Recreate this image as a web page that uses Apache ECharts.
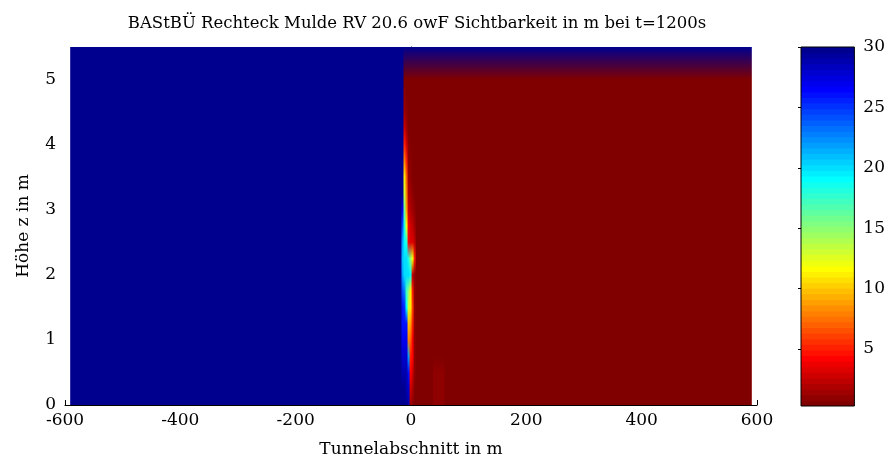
<!DOCTYPE html>
<html><head><meta charset="utf-8">
<script src="https://cdn.jsdelivr.net/npm/echarts@6/dist/echarts.min.js"></script>
<style>html,body{margin:0;padding:0;background:#fff}#c{width:888px;height:463px}</style>
</head><body><div id="c"></div>
<script>
// ---- data ----
const titleText = 'BAStBÜ Rechteck Mulde RV 20.6 owF Sichtbarkeit in m bei t=1200s';
const xTicks = [-600, -400, -200, 0, 200, 400, 600];
const yTicks = [0, 1, 2, 3, 4, 5];
const cbTicks = [5, 10, 15, 20, 25, 30];
const cMin = 0.28, cMax = 30;
// height nodes (m)
const zNodes = [0,0.25,0.5,0.75,1,1.25,1.5,1.75,2,2.25,2.5,2.75,3,3.25,3.5,3.75,4,4.25,4.5,4.75,5,5.5];
// column edges along the tunnel (m)
const xEdges = [-591,-16.5,-13,-9.5,-6,-2.5,1,4.5,8,38,58,591];
// visibility (m) per column, one value per height node
const colLeft  = [30,30,30,30,30,30,30,30,30,30,30,30,30,30,30,30,30,30,30,30,30,30];
const colA     = [30,30,29,28,27,26,26,24,22,21,22,24,27,30,30,30,30,30,30,30,30,30];
const colB     = [30,30,29,28,27,26,25,23,20,20,19,18,16,13,11,8,5,3,1.5,0.8,0.4,30];
const colC     = [30,29,29,28,27,26,19,17,20,20,18,12,9,8,7,5,3,1.5,1,0.6,0.4,30];
const colD     = [29,28,26,22,8,10,13,15,20,18,4,4,3,2,1.5,1,0.8,0.5,0.4,0.3,0.3,30];
const colE     = [1.5,3,4,5,7,9,11,11,19,15,3.5,3,2,1.5,1,0.8,0.6,0.5,0.4,0.3,0.3,30];
const colF     = [0.8,2,3,4,4,5,6,5,2.5,12,3.5,2.5,1.5,1,0.6,0.4,0.4,0.3,0.3,0.3,0.3,30];
const colG     = [0.4,0.6,0.8,1,1,1,1,1,1,5,2.5,1.5,0.8,0.4,0.3,0.3,0.3,0.3,0.3,0.3,0.3,30];
const colH     = [0.3,0.4,0.4,0.4,0.4,0.4,0.4,0.4,0.5,1.5,1,0.8,0.3,0.3,0.3,0.3,0.3,0.3,0.3,0.3,0.3,30];
const colR1    = [0.3,0.3,0.3,0.3,0.3,0.3,0.3,0.3,0.3,0.3,0.3,0.3,0.3,0.3,0.3,0.3,0.3,0.3,0.3,0.3,0.3,30];
const colStrip = [1.0,1.0,0.8,0.5,0.3,0.3,0.3,0.3,0.3,0.3,0.3,0.3,0.3,0.3,0.3,0.3,0.3,0.3,0.3,0.3,0.3,30];
const colR2    = [0.3,0.3,0.3,0.3,0.3,0.3,0.3,0.3,0.3,0.3,0.3,0.3,0.3,0.3,0.3,0.3,0.3,0.3,0.3,0.3,0.3,30];
const columnValues = [colLeft,colA,colB,colC,colD,colE,colF,colG,colR1,colStrip,colR2];

// ---- colormap: MATLAB jet(64), reversed (high = blue) ----
function jet64(){
  const n=16, u=[];
  for(let k=1;k<=n;k++)u.push(k/n);
  for(let k=0;k<n-1;k++)u.push(1);
  for(let k=n;k>=1;k--)u.push(k/n);
  const R=new Array(64).fill(0),G=new Array(64).fill(0),B=new Array(64).fill(0);
  for(let k=0;k<u.length;k++){
    const g=8+k, r=24+k, b=k-8;
    if(g<64)G[g]=u[k];
    if(r<64)R[r]=u[k];
    if(b>=0)B[b]=u[k];
  }
  const out=[];
  for(let i=0;i<64;i++)out.push('rgb('+Math.round(R[i]*255)+','+Math.round(G[i]*255)+','+Math.round(B[i]*255)+')');
  return out;
}
const jet = jet64();
const cmap = jet.slice().reverse(); // index 0 = dark red (low), 63 = dark blue (high)
function colorOf(v){
  let i=Math.floor((v-cMin)/(cMax-cMin)*64);
  if(i<0)i=0; if(i>63)i=63;
  return cmap[i];
}

const zTop = zNodes[zNodes.length-1];
const fieldData = columnValues.map((vals,i)=>[xEdges[i], xEdges[i+1], i]);
const cbData = cmap.map((c,i)=>[i]);

const FONT = 'DejaVu Serif';
const chart = echarts.init(document.getElementById('c'), null, {renderer:'canvas'});
chart.setOption({
  animation:false,
  backgroundColor:'#fff',
  title:{text:titleText,left:412,top:10,textAlign:'center',
    textStyle:{fontFamily:FONT,fontSize:16.5,fontWeight:'normal',color:'#000'}},
  grid:[
    {left:65,right:131,top:47,bottom:57},
    {left:801,width:56,top:47,height:359,show:true,z:10,backgroundColor:'transparent',borderColor:'#000',borderWidth:1}
  ],
  xAxis:[
    {gridIndex:0,type:'value',min:-600,max:600,interval:200,
     name:'Tunnelabschnitt in m',nameLocation:'middle',nameGap:36,
     nameTextStyle:{fontFamily:FONT,fontSize:17,color:'#000'},
     axisLine:{show:true,lineStyle:{color:'#000',width:1}},
     axisTick:{show:true,inside:true,length:5,customValues:xTicks,lineStyle:{color:'#000'}},
     axisLabel:{fontFamily:FONT,fontSize:17,color:'#000',margin:7,customValues:xTicks},
     splitLine:{show:false}},
    {gridIndex:1,type:'value',min:0,max:1,show:false}
  ],
  yAxis:[
    {gridIndex:0,type:'value',min:0,max:5.5,interval:1,
     name:'Höhe z in m',nameLocation:'middle',nameGap:33,
     nameTextStyle:{fontFamily:FONT,fontSize:17,color:'#000'},
     axisLine:{show:true,lineStyle:{color:'#000',width:1}},
     axisTick:{show:true,inside:true,length:5,customValues:yTicks,lineStyle:{color:'#000'}},
     axisLabel:{fontFamily:FONT,fontSize:17,color:'#000',margin:9,customValues:yTicks},
     splitLine:{show:false}},
    {gridIndex:1,type:'value',min:cMin,max:cMax,position:'right',
     axisLine:{show:false},
     axisTick:{show:true,inside:true,length:3,customValues:cbTicks,lineStyle:{color:'#000'}},
     axisLabel:{fontFamily:FONT,fontSize:17,color:'#000',margin:9,customValues:cbTicks},
     splitLine:{show:false}}
  ],
  series:[
    {type:'custom',xAxisIndex:0,yAxisIndex:0,clip:true,
     data:fieldData,
     encode:{x:[0,1],y:-1},
     renderItem:function(params,api){
       const i=api.value(2);
       const vals=columnValues[i];
       const p0=api.coord([api.value(0),zNodes[0]]);
       const p1=api.coord([api.value(1),zTop]);
       const last = i===columnValues.length-1;
       const stops=vals.map((v,k)=>({offset:(zNodes[k]-zNodes[0])/(zTop-zNodes[0]),color:colorOf(v)}));
       return {type:'rect',
         shape:{x:p0[0],y:p1[1],width:p1[0]-p0[0]+(last?0:0.8),height:p0[1]-p1[1]},
         style:{fill:new echarts.graphic.LinearGradient(0,1,0,0,stops)}};
     }},
    {type:'custom',xAxisIndex:1,yAxisIndex:1,clip:true,
     data:cbData,
     encode:{y:0},
     renderItem:function(params,api){
       const i=api.value(0);
       const step=(cMax-cMin)/64;
       const a=api.coord([0,cMin+i*step]);
       const b=api.coord([1,cMin+(i+1)*step]);
       return {type:'rect',shape:{x:a[0],y:b[1]-0.5,width:b[0]-a[0],height:a[1]-b[1]+1},
         style:{fill:cmap[i]}};
     }}
  ]
});
</script></body></html>
